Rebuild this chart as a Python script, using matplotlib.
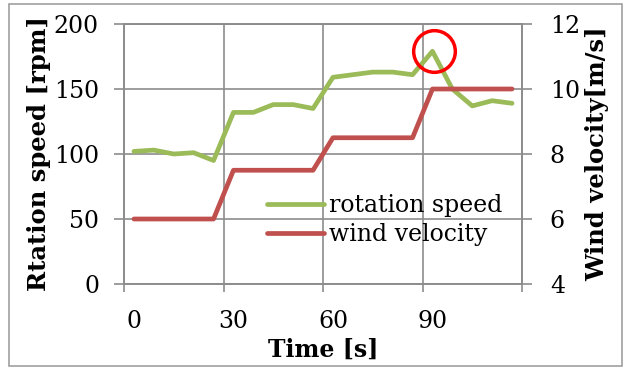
import matplotlib
matplotlib.use("Agg")
import matplotlib.pyplot as plt
from matplotlib.patches import Rectangle
import numpy as np

# data (one sample every 6 s)
time_s = [0, 6, 12, 18, 24, 30, 36, 42, 48, 54, 60, 66, 72, 78, 84, 90, 96, 102, 108, 114]
rotation_rpm = [102, 103, 100, 101, 95, 132, 132, 138, 138, 135,
                159, 161, 163, 163, 161, 179, 150, 137, 141, 139]
wind_ms = [6, 6, 6, 6, 6, 7.5, 7.5, 7.5, 7.5, 7.5,
           8.5, 8.5, 8.5, 8.5, 8.5, 10, 10, 10, 10, 10]
time_labels = ["0", "30", "60", "90"]

green = "#9BBB59"
red = "#C0504D"
grid_c = "#8C8C8C"

plt.rcParams["font.family"] = "DejaVu Serif"
plt.rcParams["font.size"] = 17

fig = plt.figure(figsize=(6.3, 3.7), dpi=100)
ax = fig.add_axes([124/630, 1 - 284/370, 398/630, 260/370])
ax2 = ax.twinx()

x = np.arange(len(time_s))
l1, = ax.plot(x, rotation_rpm, color=green, lw=3.4, solid_capstyle="round",
              solid_joinstyle="round", label="rotation speed", zorder=3)
l2, = ax2.plot(x, wind_ms, color=red, lw=3.4, solid_capstyle="round",
               solid_joinstyle="round", label="wind velocity", zorder=3)

# red circle around the peak
peak = int(np.argmax(rotation_rpm))
ax.plot(x[peak] + 0.1, rotation_rpm[peak], "o", ms=30, mfc="none", mec="#FF0000",
        mew=2.5, zorder=4)

ax.set_xlim(-0.5, len(x) - 0.5)
ax.set_ylim(0, 200)
ax2.set_ylim(4, 12)
ax.set_yticks(range(0, 201, 50))
ax2.set_yticks(range(4, 13, 2))

# category axis: gridlines between groups, labels every 5th sample
ax.set_xticks(np.arange(-0.5, len(x), 5))
ax.set_xticklabels([])
ax.set_xticks(np.arange(0, len(x), 5), minor=True)
ax.set_xticklabels(time_labels, minor=True)
ax.tick_params(axis="x", which="minor", length=0, pad=19)
ax.tick_params(axis="x", which="major", length=6, color=grid_c, width=1.2)
ax.tick_params(axis="y", length=7, color=grid_c, width=1.2, pad=11)
ax2.tick_params(axis="y", length=7, color=grid_c, width=1.2, pad=13)

ax.grid(True, which="major", color=grid_c, lw=1.2)
ax.set_axisbelow(True)
for a in (ax, ax2):
    for s in a.spines.values():
        s.set_color(grid_c)
        s.set_linewidth(1.2)

ax.set_xlabel("Time [s]", fontweight="bold", labelpad=3)
ax.set_ylabel("Rtation speed [rpm]", fontweight="bold", labelpad=2, fontsize=17.5)
ax2.set_ylabel("Wind velocity[m/s]", fontweight="bold", labelpad=4, fontsize=17.5)

ax2.legend([l1, l2], ["rotation speed", "wind velocity"], loc="center left",
           bbox_to_anchor=(0.36, 0.245), frameon=False, handlelength=2.4,
           handletextpad=0.2, labelspacing=0.25, borderpad=0, borderaxespad=0)

fig.patches.append(Rectangle((0.014, 0.012), 0.973, 0.977, transform=fig.transFigure,
                             fill=False, edgecolor="#A0A0A0", lw=1.2))

fig.savefig("out.png", dpi=100)
